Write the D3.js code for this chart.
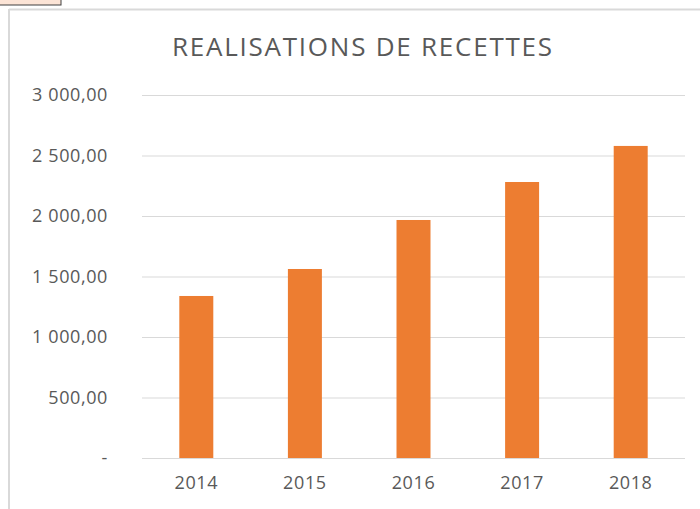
<!DOCTYPE html>
<html>
<head>
<meta charset="utf-8">
<script src="https://cdn.jsdelivr.net/npm/d3@7"></script>
<style>
  body { margin: 0; background: #fff; }
  svg { display: block; }
</style>
</head>
<body>
<script>
var years = ["2014", "2015", "2016", "2017", "2018"];
var recettes = [1339, 1562, 1967, 2281, 2579];
var yTicks = [0, 500, 1000, 1500, 2000, 2500, 3000];
var chartTitle = "REALISATIONS DE RECETTES";

var W = 700, H = 509;
var margin = {top: 95, right: 15, bottom: 51, left: 142};
var width = W - margin.left - margin.right,
    height = H - margin.top - margin.bottom;

var svg = d3.select("body").append("svg").attr("width", W).attr("height", H);

// little cell box in the corner and chart frame
svg.append("rect").attr("x", -1).attr("y", -1).attr("width", 62).attr("height", 6)
   .attr("fill", "#fce4d6").attr("stroke", "#404040").attr("stroke-width", 1);
svg.append("line").attr("x1", 9).attr("x2", W).attr("y1", 9.5).attr("y2", 9.5)
   .attr("stroke", "#d9d9d9").attr("stroke-width", 2);
svg.append("line").attr("x1", 9).attr("x2", 9).attr("y1", 9).attr("y2", H)
   .attr("stroke", "#d9d9d9").attr("stroke-width", 2);

svg.append("text").attr("x", 362).attr("y", 56).attr("text-anchor", "middle")
   .attr("font-family", "Open Sans, sans-serif").attr("font-size", 26)
   .attr("textLength", 380).attr("lengthAdjust", "spacing")
   .attr("fill", "#595959").text(chartTitle);

var g = svg.append("g").attr("transform", "translate(" + margin.left + "," + margin.top + ")");

var x = d3.scaleBand().domain(years).range([0, width]).padding(0);
var y = d3.scaleLinear().domain([0, 3000]).range([height, 0]);

var fmt = function(v) {
  if (v === 0) return "-";
  var s = d3.format(",.2f")(v);
  return s.replace(/,/g, " ").replace(".", ",");
};

var yAxis = d3.axisLeft(y).tickValues(yTicks).tickSize(-width).tickPadding(34).tickFormat(fmt);
var gy = g.append("g").call(yAxis);
gy.select(".domain").remove();
gy.selectAll("line").attr("stroke", "#d9d9d9");
gy.selectAll("text").attr("font-family", "Open Sans, sans-serif").attr("font-size", 18)
  .attr("letter-spacing", 0.6).attr("fill", "#595959");

var xAxis = d3.axisBottom(x).tickSize(0).tickPadding(18);
var gx = g.append("g").attr("transform", "translate(0," + height + ")").call(xAxis);
gx.select(".domain").remove();
gx.selectAll("text").attr("font-family", "Open Sans, sans-serif").attr("font-size", 18)
  .attr("letter-spacing", 0.6).attr("fill", "#595959");

var barW = x.bandwidth() * 0.313;
g.selectAll(".bar").data(years).enter().append("rect")
  .attr("class", "bar")
  .attr("x", function(d) { return x(d) + x.bandwidth() / 2 - barW / 2; })
  .attr("y", function(d, i) { return y(recettes[i]); })
  .attr("width", barW)
  .attr("height", function(d, i) { return height - y(recettes[i]); })
  .attr("fill", "#ed7d31");
</script>
</body>
</html>
